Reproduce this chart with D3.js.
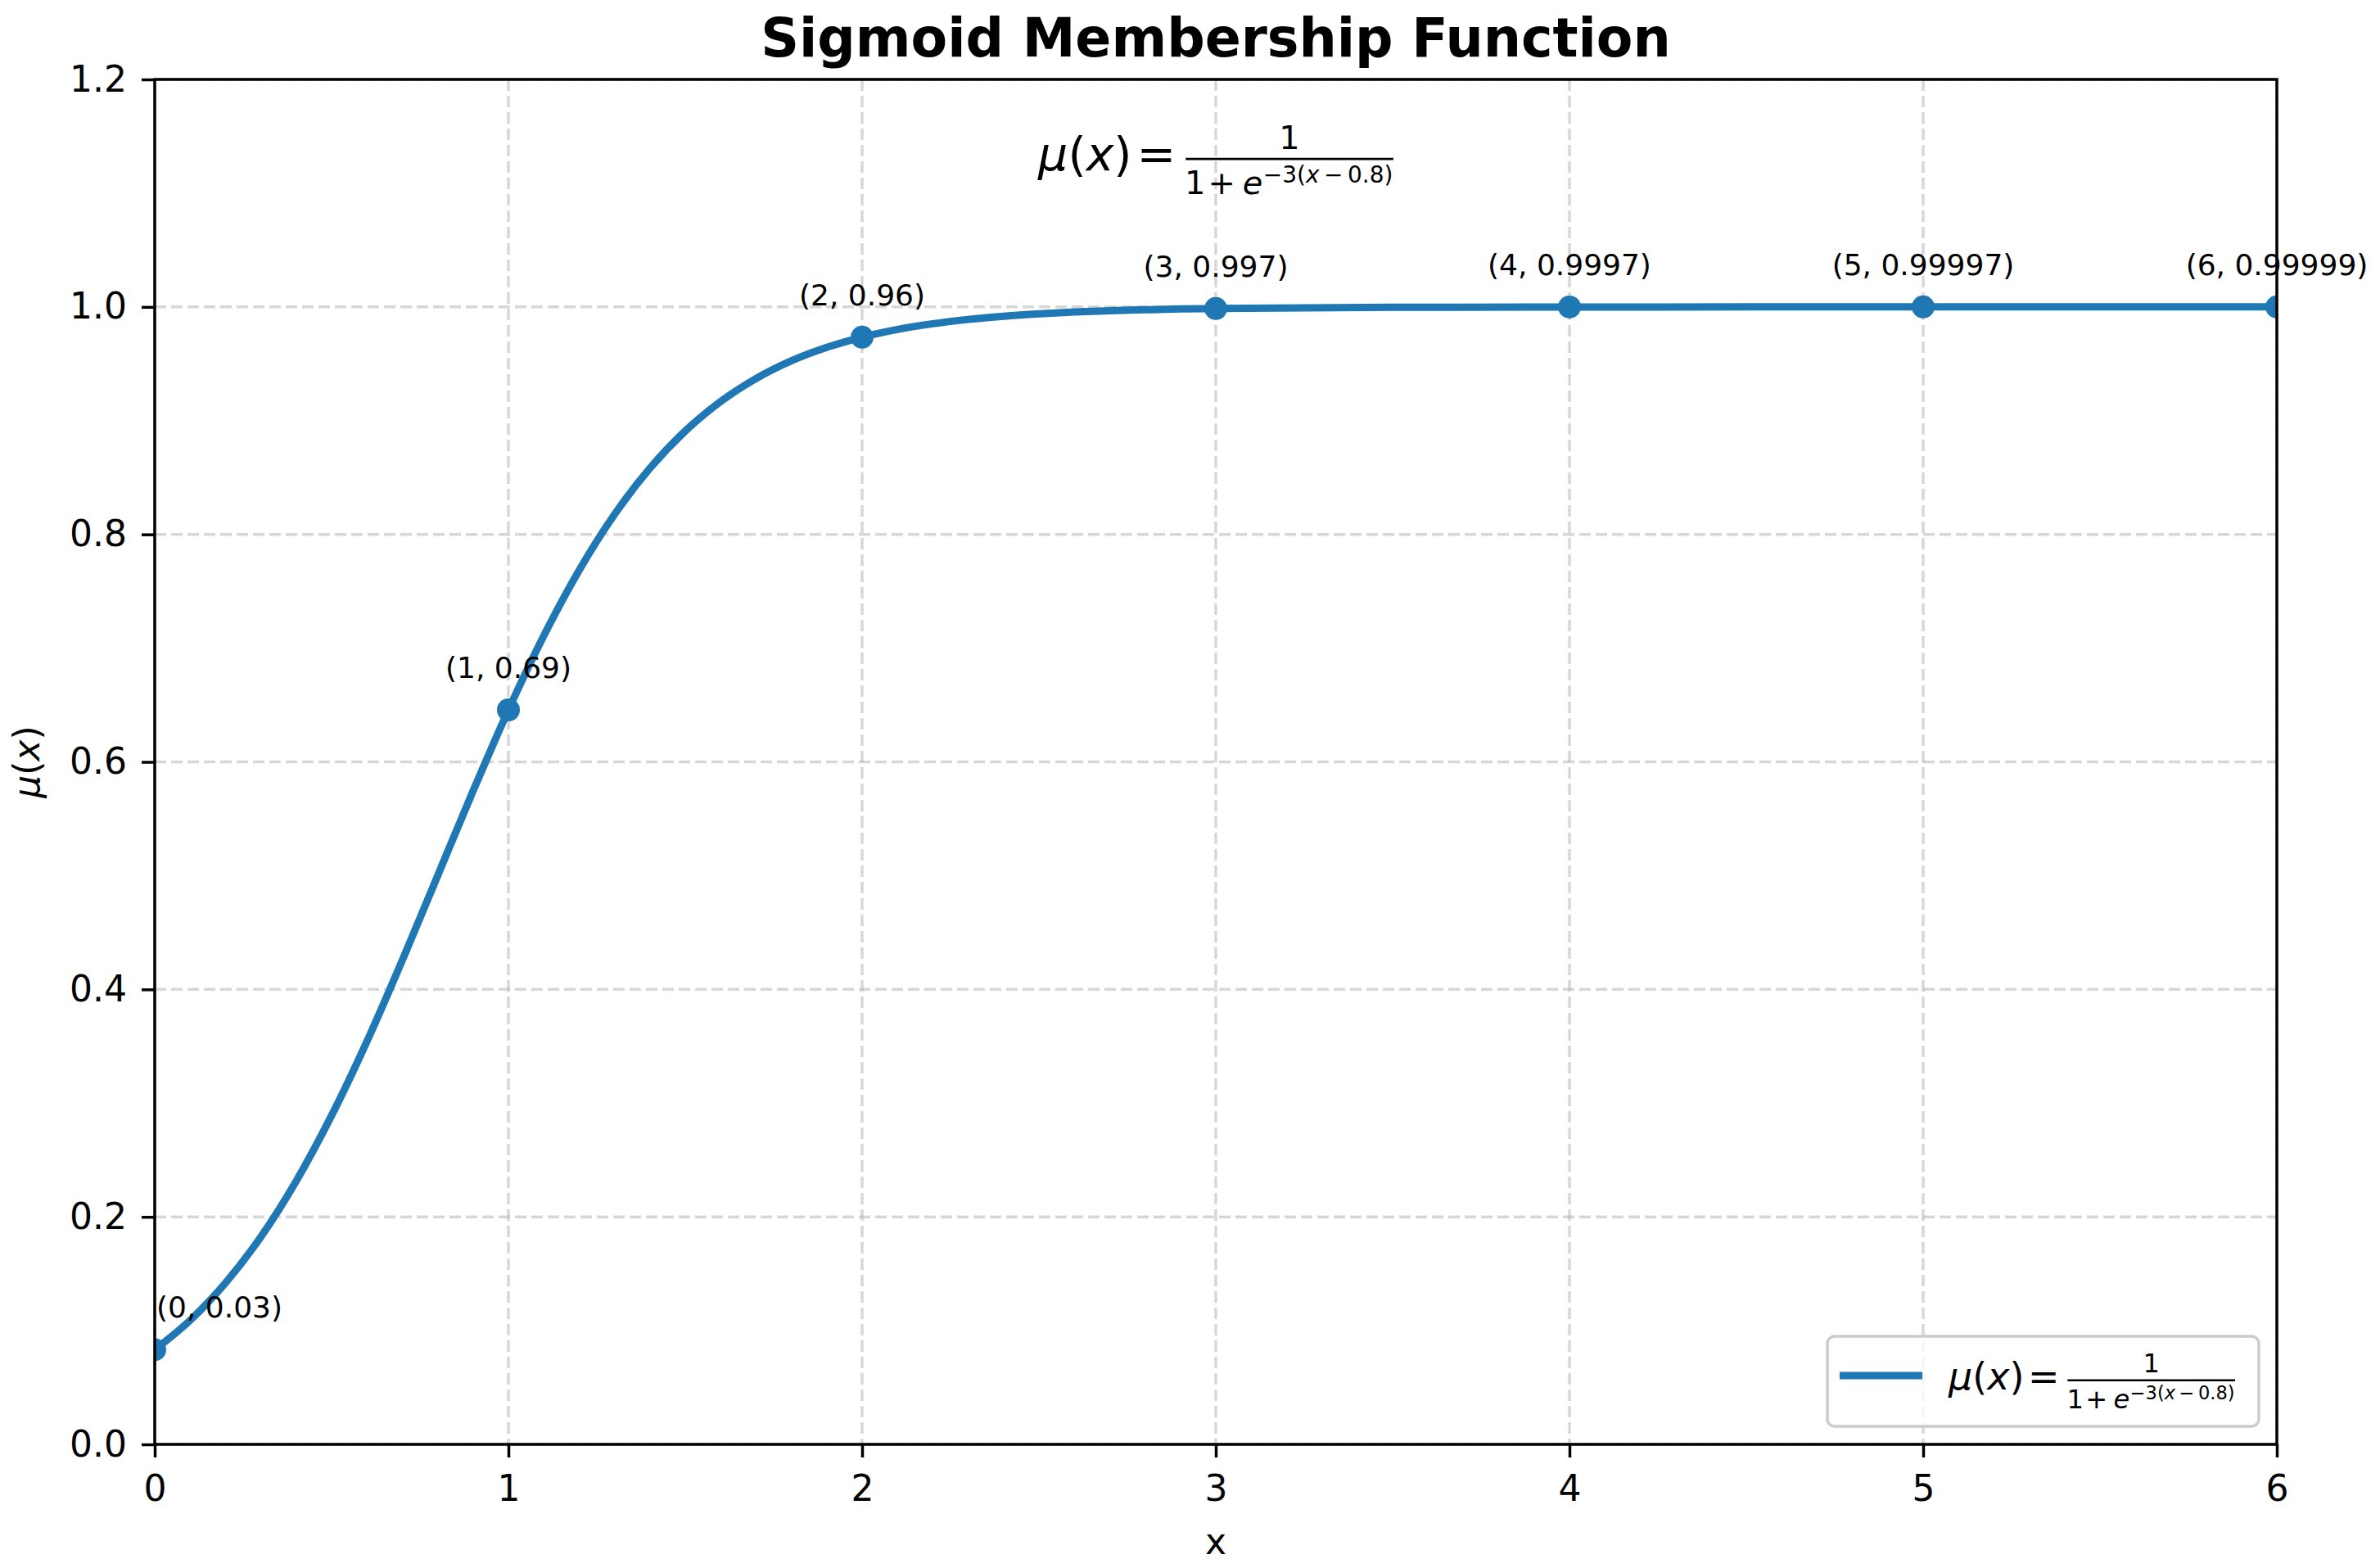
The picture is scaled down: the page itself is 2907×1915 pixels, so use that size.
<!DOCTYPE html>
<html>
<head>
<meta charset="utf-8">
<script src="https://cdn.jsdelivr.net/npm/d3@7"></script>
<style>
  html, body { margin: 0; padding: 0; background: #ffffff; }
  svg { display: block; font-family: "DejaVu Sans", sans-serif; }
</style>
</head>
<body>
<svg id="chart" width="2907" height="1915"></svg>
<script>
// ---------------- data ----------------
const curveX = [0, 0.1, 0.2, 0.3, 0.4, 0.5, 0.6, 0.7, 0.8, 0.9, 1.0, 1.1, 1.2, 1.3, 1.4, 1.5, 1.6, 1.7, 1.8, 1.9, 2.0,
                2.1, 2.2, 2.3, 2.4, 2.5, 2.6, 2.7, 2.8, 2.9, 3.0, 3.5, 4.0, 4.5, 5.0, 5.5, 6.0];
const curveY = [0.0832, 0.1091, 0.1419, 0.1824, 0.2315, 0.2891, 0.3543, 0.4256, 0.5, 0.5744, 0.6457, 0.7109, 0.7685,
                0.8176, 0.8581, 0.8909, 0.9168, 0.9370, 0.9526, 0.9644, 0.9734, 0.9802, 0.9852, 0.9890, 0.9918, 0.9939,
                0.9955, 0.9967, 0.9975, 0.9982, 0.9986, 0.9997, 0.9999, 1.0, 1.0, 1.0, 1.0];
const pointX = [0, 1, 2, 3, 4, 5, 6];
const pointY = [0.0832, 0.6457, 0.9734, 0.9986, 0.9999, 1.0, 1.0];
const pointLabels = ["(0, 0.03)", "(1, 0.69)", "(2, 0.96)", "(3, 0.997)", "(4, 0.9997)", "(5, 0.99997)", "(6, 0.99999)"];
const xTicks = [0, 1, 2, 3, 4, 5, 6];
const yTicks = [0, 0.2, 0.4, 0.6, 0.8, 1.0, 1.2];
const yTickLabels = ["0.0", "0.2", "0.4", "0.6", "0.8", "1.0", "1.2"];
const titleText = "Sigmoid Membership Function";
const xLabelText = "x";
const formulaPos = [3, 1.12];

// ---------------- layout ----------------
const L = 189, R = 2781, T = 97, B = 1764;
const blue = "#1f77b4";
const svg = d3.select("#chart");
svg.append("rect").attr("width", 2907).attr("height", 1915).attr("fill", "#fff");

const x = d3.scaleLinear().domain([0, 6]).range([L, R]);
const y = d3.scaleLinear().domain([0, 1.2]).range([B, T]);

svg.append("defs").append("clipPath").attr("id", "plotclip")
  .append("rect").attr("x", L).attr("y", T).attr("width", R - L).attr("height", B - T);

// grid
const grid = svg.append("g");
grid.selectAll("line.vx").data(xTicks).enter().append("line")
  .attr("x1", d => x(d)).attr("x2", d => x(d)).attr("y1", T).attr("y2", B)
  .attr("stroke", "#b0b0b0").attr("stroke-opacity", 0.5).attr("stroke-width", 3.5).attr("stroke-dasharray", "14,6");
grid.selectAll("line.hy").data(yTicks).enter().append("line")
  .attr("x1", L).attr("x2", R).attr("y1", d => y(d)).attr("y2", d => y(d))
  .attr("stroke", "#b0b0b0").attr("stroke-opacity", 0.5).attr("stroke-width", 3.5).attr("stroke-dasharray", "14,6");

// formula builder
function drawFormula(g, x0, y0, F) {
  const f = 0.7 * F, s = 0.49 * F;
  const t = g.append("text").attr("x", x0).attr("y", y0).attr("font-size", F).attr("fill", "#000");
  t.append("tspan").attr("font-style", "italic").text("μ");
  t.append("tspan").text("(");
  t.append("tspan").attr("font-style", "italic").text("x");
  t.append("tspan").text(")");
  g.append("text").attr("x", x0 + 2.53 * F).attr("y", y0).attr("text-anchor", "middle")
    .attr("font-size", F).text("=");
  const bl = x0 + 3.16 * F, br = x0 + 7.61 * F, by = y0 - 0.245 * F;
  g.append("line").attr("x1", bl).attr("x2", br).attr("y1", by).attr("y2", by)
    .attr("stroke", "#000").attr("stroke-width", Math.max(2, 0.05 * F));
  g.append("text").attr("x", (bl + br) / 2).attr("y", y0 - 0.456 * F).attr("text-anchor", "middle")
    .attr("font-size", f).text("1");
  const dy = y0 + 0.5 * F;
  g.append("text").attr("x", bl - 0.02 * F).attr("y", dy).attr("font-size", f).text("1");
  g.append("text").attr("x", x0 + 3.93 * F).attr("y", dy).attr("text-anchor", "middle").attr("font-size", f).text("+");
  g.append("text").attr("x", x0 + 4.38 * F).attr("y", dy).attr("font-size", f).attr("font-style", "italic").text("e");
  const sup = g.append("text").attr("x", x0 + 4.82 * F).attr("y", dy - 0.24 * F).attr("font-size", s);
  sup.append("tspan").text("−3(");
  sup.append("tspan").attr("font-style", "italic").text("x");
  sup.append("tspan").text("\u2009−\u20090.8)");
}

// formula at top
{
  const F = 57;
  const g = svg.append("g");
  drawFormula(g, x(formulaPos[0]) - 7.61 * F / 2, y(formulaPos[1]), F);
}

// curve
const plot = svg.append("g").attr("clip-path", "url(#plotclip)");
const line = d3.line().x(d => x(d[0])).y(d => y(d[1])).curve(d3.curveMonotoneX);
plot.append("path").datum(curveX.map((v, i) => [v, curveY[i]]))
  .attr("d", line).attr("fill", "none").attr("stroke", blue).attr("stroke-width", 9)
  .attr("stroke-linejoin", "round").attr("stroke-linecap", "butt");
plot.selectAll("circle").data(pointX).enter().append("circle")
  .attr("cx", d => x(d)).attr("cy", (d, i) => y(pointY[i])).attr("r", 14).attr("fill", blue);

// annotations
svg.append("g").selectAll("text").data(pointX).enter().append("text")
  .attr("x", (d, i) => i === 0 ? x(d) + 2 : x(d))
  .attr("y", (d, i) => y(pointY[i]) - 39)
  .attr("text-anchor", (d, i) => i === 0 ? "start" : "middle")
  .attr("font-size", 36).attr("fill", "#000")
  .text((d, i) => pointLabels[i]);

// axes
const xAxis = d3.axisBottom(x).tickValues(xTicks).tickFormat(d3.format("d")).tickSize(16).tickSizeOuter(0).tickPadding(22);
const yAxis = d3.axisLeft(y).tickValues(yTicks).tickFormat((d, i) => yTickLabels[i]).tickSize(16).tickSizeOuter(0).tickPadding(18);
const gx = svg.append("g").attr("transform", `translate(0,${B})`).call(xAxis);
const gy = svg.append("g").attr("transform", `translate(${L},0)`).call(yAxis);
[gx, gy].forEach(g => {
  g.select(".domain").remove();
  g.selectAll(".tick line").attr("stroke", "#000").attr("stroke-width", 3.5);
  g.selectAll(".tick text").attr("font-size", 44).attr("fill", "#000").attr("font-family", "DejaVu Sans");
});

// spines
svg.append("rect").attr("x", L).attr("y", T).attr("width", R - L).attr("height", B - T)
  .attr("fill", "none").attr("stroke", "#000").attr("stroke-width", 3.5);

// legend
{
  const bw = 527, bh = 110;
  const bx = R - 22 - bw, by = B - 22 - bh;
  const g = svg.append("g");
  g.append("rect").attr("x", bx).attr("y", by).attr("width", bw).attr("height", bh).attr("rx", 9)
    .attr("fill", "#fff").attr("fill-opacity", 0.8).attr("stroke", "#cccccc").attr("stroke-width", 3.5);
  g.append("line").attr("x1", bx + 15).attr("x2", bx + 116).attr("y1", by + 48).attr("y2", by + 48)
    .attr("stroke", blue).attr("stroke-width", 9);
  drawFormula(g, bx + 148, by + 65, 46);
}

// title and labels
svg.append("text").attr("x", (L + R) / 2).attr("y", 69).attr("text-anchor", "middle")
  .attr("font-size", 65).attr("font-weight", "bold").text(titleText);
svg.append("text").attr("x", (L + R) / 2).attr("y", 1898).attr("text-anchor", "middle")
  .attr("font-size", 44).text(xLabelText);
{
  const t = svg.append("text").attr("transform", `translate(48,${(T + B) / 2}) rotate(-90)`)
    .attr("text-anchor", "middle").attr("font-size", 44);
  t.append("tspan").attr("font-style", "italic").text("μ");
  t.append("tspan").text("(");
  t.append("tspan").attr("font-style", "italic").text("x");
  t.append("tspan").text(")");
}
</script>
</body>
</html>
